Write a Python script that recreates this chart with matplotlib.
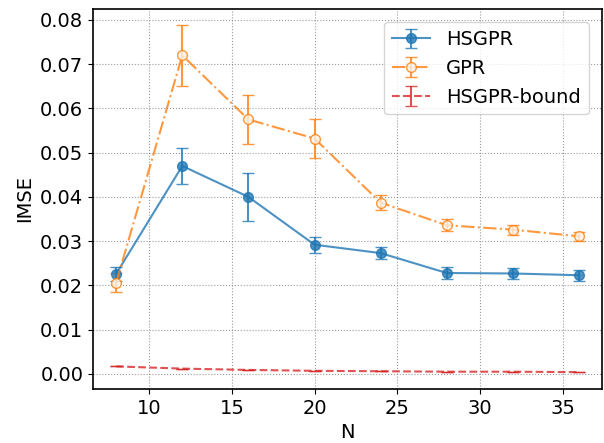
import numpy as np
import matplotlib.pyplot as plt

N = [8, 12, 16, 20, 24, 28, 32, 36]
hsgpr = [0.0226, 0.0470, 0.0400, 0.0292, 0.0273, 0.0228, 0.0227, 0.0223]
hsgpr_err = [0.0015, 0.0041, 0.0054, 0.0018, 0.0013, 0.0013, 0.0013, 0.0012]
gpr = [0.0206, 0.0720, 0.0575, 0.0532, 0.0387, 0.0336, 0.0326, 0.0311]
gpr_err = [0.0022, 0.0069, 0.0055, 0.0043, 0.0017, 0.0013, 0.0011, 0.0010]
bound = [0.0017, 0.0012, 0.0009, 0.0007, 0.0006, 0.0005, 0.0005, 0.0004]
bound_err = [0.00002] * 8

plt.rcParams['font.size'] = 14
fig = plt.figure(figsize=(6.04, 4.43), dpi=100)
ax = fig.add_axes([0.154, 0.122, 0.843, 0.858])

ax.errorbar(N, hsgpr, yerr=hsgpr_err, fmt='-o', color='tab:blue', capsize=4,
            markersize=7, alpha=0.8, label='HSGPR')
ax.errorbar(N, gpr, yerr=gpr_err, fmt='-.o', color='tab:orange', capsize=4,
            markersize=7, markerfacecolor='#fdf3ea', alpha=0.8, label='GPR')
ax.errorbar(N, bound, yerr=bound_err, fmt='--', color='tab:red', capsize=4,
            alpha=0.8, label='HSGPR-bound')

ax.set_xlabel('N')
ax.set_ylabel('IMSE')
ax.set_ylim(-0.0034, 0.0825)
ax.set_xticks([10, 15, 20, 25, 30, 35])
ax.grid(True, linestyle=':', color='gray', alpha=0.8)
ax.legend(loc='upper right', borderaxespad=0.7)
for s in ax.spines.values():
    s.set_linewidth(1.2)

plt.savefig('out.png')
